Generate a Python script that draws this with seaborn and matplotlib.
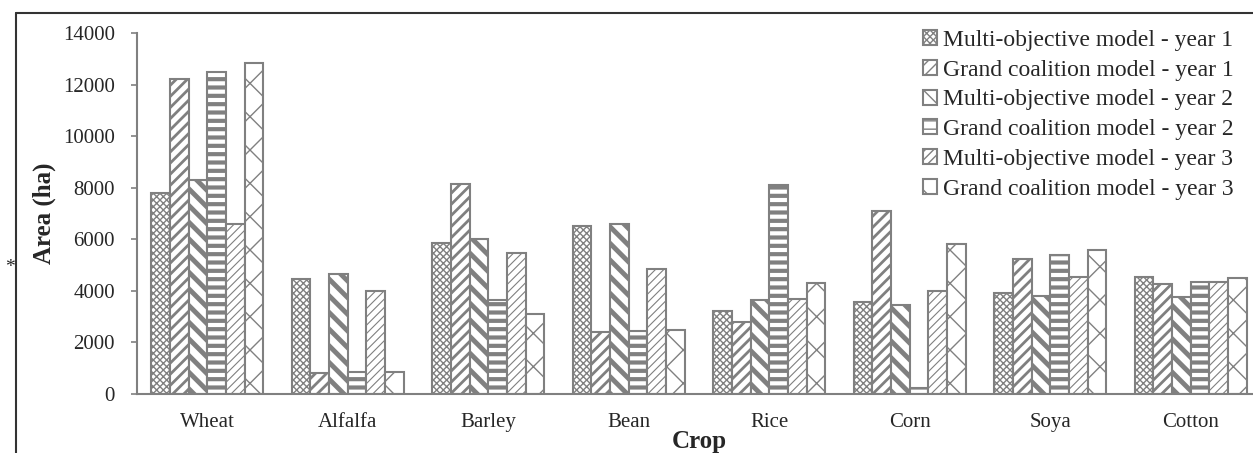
import pandas as pd
import matplotlib.pyplot as plt
import matplotlib.lines as mlines
import seaborn as sns

crops = ['Wheat', 'Alfalfa', 'Barley', 'Bean', 'Rice', 'Corn', 'Soya', 'Cotton']
series = ['Multi-objective model - year 1', 'Grand coalition model - year 1',
          'Multi-objective model - year 2', 'Grand coalition model - year 2',
          'Multi-objective model - year 3', 'Grand coalition model - year 3']

mo_y1 = [7800, 4450, 5850, 6500, 3200, 3550, 3900, 4550]
gc_y1 = [12200, 800, 8150, 2400, 2800, 7100, 5250, 4250]
mo_y2 = [8300, 4650, 6000, 6600, 3650, 3450, 3800, 3750]
gc_y2 = [12500, 850, 3650, 2450, 8100, 250, 5400, 4350]
mo_y3 = [6600, 4000, 5450, 4850, 3700, 4000, 4550, 4350]
gc_y3 = [12850, 850, 3100, 2500, 4300, 5800, 5600, 4500]

values = [mo_y1, gc_y1, mo_y2, gc_y2, mo_y3, gc_y3]
df = pd.DataFrame([(c, s, v) for s, vals in zip(series, values) for c, v in zip(crops, vals)],
                  columns=['Crop', 'Series', 'Area'])

sns.set_style('white')
plt.rcParams['font.family'] = ['Liberation Serif', 'DejaVu Serif']
plt.rcParams['hatch.color'] = '#808080'

fig = plt.figure(figsize=(12.53, 4.53), dpi=100)
ax = fig.add_axes([137 / 1253, 59 / 453, 1124 / 1253, 361 / 453])

sns.barplot(data=df, x='Crop', y='Area', hue='Series', order=crops, hue_order=series,
            palette=['white'] * 6, width=0.8, ax=ax, legend=False)

# hatch pattern and hatch line width for each series
styles = [('xxxxx', 1.0), ('///', 2.0), ('\\\\', 3.5), ('--', 3.0), ('////', 0.8), ('x', 1.0)]
gray = '#808080'
for cont, (h, lw) in zip(ax.containers, styles):
    for p in cont.patches:
        p.set_facecolor('white')
        p.set_edgecolor(gray)
        p.set_linewidth(1.5)
        p.set_hatch(h)
        try:
            p.set_hatch_linewidth(lw)
        except AttributeError:
            p._hatch_linewidth = lw

ax.set_ylim(0, 14000)
ax.set_yticks(range(0, 14001, 2000))
ax.set_xlim(-0.5, 7.5)
ax.set_xticks(range(len(crops)))
ax.set_xticklabels(crops)
ax.set_xticks([i - 0.5 for i in range(len(crops) + 1)], minor=True)
ax.tick_params(axis='x', which='major', length=0, pad=14, labelsize=15)
ax.tick_params(axis='x', which='minor', length=6, width=1.2, color=gray, direction='out')
ax.tick_params(axis='y', length=4, width=1.2, color=gray, pad=12, labelsize=15, left=True)

for s in ['top', 'right']:
    ax.spines[s].set_visible(False)
for s in ['left', 'bottom']:
    ax.spines[s].set_color(gray)
    ax.spines[s].set_linewidth(1.5)

ax.set_xlabel('Crop', fontsize=18, fontweight='bold', labelpad=-2)
ax.set_ylabel('Area (ha)', fontsize=18, fontweight='bold', labelpad=5)

leg = ax.legend(ax.containers, series, loc='upper left', bbox_to_anchor=(923 / 1253, 1 - 30 / 453),
                bbox_transform=fig.transFigure, frameon=False, fontsize=17,
                handlelength=0.6, handleheight=0.6, handletextpad=0.25, labelspacing=0.37,
                borderaxespad=0, borderpad=0)

fig.text(10 / 1253, 1 - 268 / 453, '*', fontsize=14, ha='center', va='center')

# outer frame of the original figure
fig.add_artist(mlines.Line2D([16 / 1253, 1], [1 - 13 / 453, 1 - 13 / 453], color='#333333', lw=1.5))
fig.add_artist(mlines.Line2D([16 / 1253, 16 / 1253], [0, 1 - 13 / 453], color='#333333', lw=1.5))

fig.savefig('out.png', dpi=100)
